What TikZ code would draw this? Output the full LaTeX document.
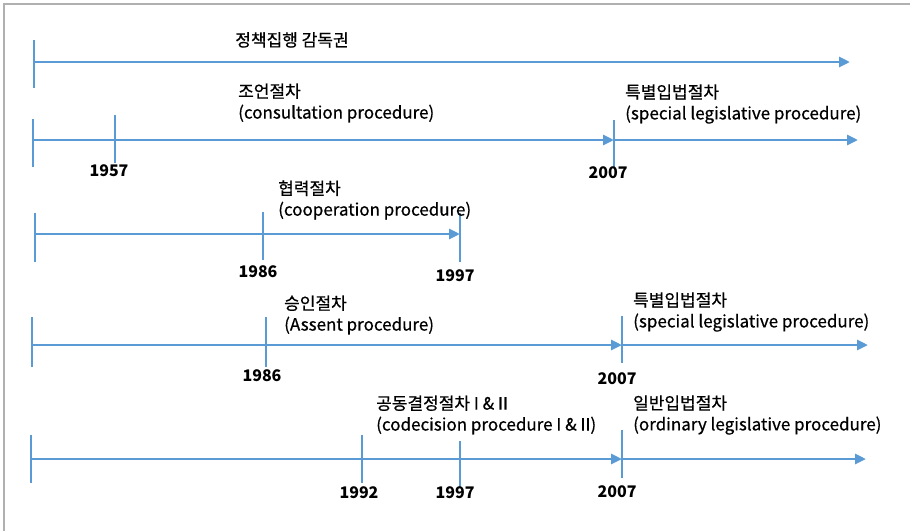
\documentclass[tikz,border=0pt]{standalone}
\usepackage{fontspec}
\setmainfont{Noto Sans CJK KR}
\newfontfamily\procfont[FakeBold=0.6]{Noto Sans CJK KR}
\usetikzlibrary{arrows.meta}
\definecolor{eublue}{RGB}{91,155,213}
\definecolor{framegray}{RGB}{176,176,176}
\tikzset{
  timeline/.style = {eublue, line width=2.8pt, -{Triangle[length=11pt,width=10pt]}},
  tickline/.style = {eublue, line width=1.2pt},
  yearlabel/.style = {font=\fontsize{16}{18}\selectfont\bfseries, inner sep=0pt},
  proclabel/.style = {font=\procfont\fontsize{17}{21}\selectfont, align=left, anchor=west, inner sep=0pt},
  frameline/.style = {framegray, line width=2pt}
}

\begin{document}
\begin{tikzpicture}[x=1pt,y=-1pt]
  \useasboundingbox (0,0) rectangle (910,531);
  \draw[frameline] (4,531) -- (4,4) -- (910,4);

  % oversight of implementation
  \coordinate (ov0) at (34,62);
  \coordinate (ovend) at (850,62);
  \draw[timeline] (ov0) -- (ovend);
  \draw[tickline] (ov0) ++(0,-22) -- ++(0,48);
  \node[proclabel,anchor=center] (ovlabel) at (292,40) {정책집행 감독권};

  % consultation -> special legislative
  \coordinate (cn0) at (33,140);
  \coordinate (cn57) at (115,140);
  \coordinate (cn07) at (614,140);
  \coordinate (cn07b) at (615,140);
  \coordinate (cnend) at (858,140);
  \draw[timeline] (cn0) -- (cn07);
  \draw[timeline] (cn07b) -- (cnend);
  \draw[tickline] (cn0) ++(0,-21) -- ++(0,48);
  \draw[tickline] (cn57) ++(0,-25) -- ++(0,48);
  \draw[tickline] (cn07) ++(0,-20) -- ++(0,48);
  \node[yearlabel] (cny57) at (109,171) {1957};
  \node[yearlabel] (cny07) at (608,173) {2007};
  \node[proclabel] (cnlabel) at (238,103) {조언절차\\(consultation procedure)};
  \node[proclabel] (cnspecial) at (625,104) {특별입법절차\\(special legislative procedure)};

  % cooperation
  \coordinate (cp0) at (35,234);
  \coordinate (cp86) at (263,234);
  \coordinate (cp97) at (460,234);
  \draw[timeline] (cp0) -- (cp97);
  \draw[tickline] (cp0) ++(0,-21) -- ++(0,49);
  \draw[tickline] (cp86) ++(0,-22) -- ++(0,48);
  \draw[tickline] (cp97) ++(0,-21) -- ++(0,49);
  \node[yearlabel] (cpy86) at (258,272) {1986};
  \node[yearlabel] (cpy97) at (455,276) {1997};
  \node[proclabel] (cplabel) at (278,200) {협력절차\\(cooperation procedure)};

  % assent -> special legislative
  \coordinate (as0) at (32,345);
  \coordinate (as86) at (266,345);
  \coordinate (as07) at (622,345);
  \coordinate (as07b) at (623,345);
  \coordinate (asend) at (868,345);
  \draw[timeline] (as0) -- (as07);
  \draw[timeline] (as07b) -- (asend);
  \draw[tickline] (as0) ++(0,-28) -- ++(0,50);
  \draw[tickline] (as86) ++(0,-28) -- ++(0,50);
  \draw[tickline] (as07) ++(0,-29) -- ++(0,47);
  \node[yearlabel] (asy86) at (262,376) {1986};
  \node[yearlabel] (asy07) at (617,379) {2007};
  \node[proclabel] (aslabel) at (284,315) {승인절차\\(Assent procedure)};
  \node[proclabel] (asspecial) at (633,312) {특별입법절차\\(special legislative procedure)};

  % codecision -> ordinary legislative
  \coordinate (cd0) at (31,459);
  \coordinate (cd92) at (362,459);
  \coordinate (cd97) at (460,459);
  \coordinate (cd07) at (622,459);
  \coordinate (cd07b) at (623,459);
  \coordinate (cdend) at (866,459);
  \draw[timeline] (cd0) -- (cd07);
  \draw[timeline] (cd07b) -- (cdend);
  \draw[tickline] (cd0) ++(0,-24) -- ++(0,48);
  \draw[tickline] (cd92) ++(0,-24) -- ++(0,48);
  \draw[tickline] (cd97) ++(0,-18) -- ++(0,46);
  \draw[tickline] (cd07) ++(0,-29) -- ++(0,48);
  \node[yearlabel] (cdy92) at (359,493) {1992};
  \node[yearlabel] (cdy97) at (455,493) {1997};
  \node[yearlabel] (cdy07) at (617,492) {2007};
  \node[proclabel] (cdlabel) at (376,415) {공동결정절차 I \& II\\(codecision procedure I \& II)};
  \node[proclabel] (cdordinary) at (633,415) {일반입법절차\\(ordinary legislative procedure)};
\end{tikzpicture}
\end{document}
